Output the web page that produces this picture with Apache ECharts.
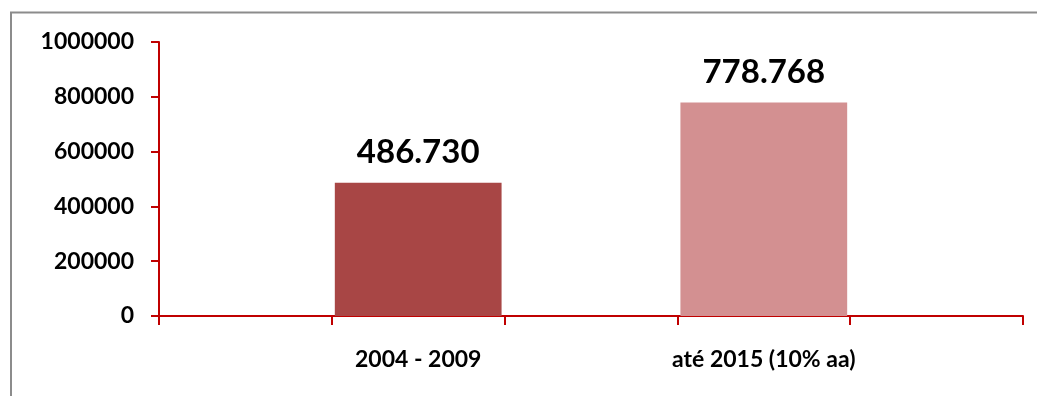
<!DOCTYPE html>
<html>
<head>
<meta charset="utf-8">
<script src="https://cdn.jsdelivr.net/npm/echarts@6/dist/echarts.min.js"></script>
<style>
html,body{margin:0;padding:0;background:#fff;}
#c{width:1037px;height:396px;}
</style>
</head>
<body>
<div id="c"></div>
<script>
const categories = ['', '2004 - 2009', '', 'até 2015 (10% aa)', ''];
const values = [null, 486730, null, 778768, null];
const barColors = [null, '#A84645', null, '#D39091', null];
const yTicks = { min: 0, max: 1000000, interval: 200000 };

const chart = echarts.init(document.getElementById('c'), null, { renderer: 'canvas' });
const fmt = v => String(v).replace(/\B(?=(\d{3})+(?!\d))/g, '.');
const axisRed = '#C00000';
chart.setOption({
  animation: false,
  backgroundColor: '#fff',
  graphic: [{
    type: 'polyline',
    shape: { points: [[11, 420], [11, 12.5], [1100, 12.5]] },
    style: { fill: null, stroke: '#8c8c8c', lineWidth: 2 },
    silent: true
  }],
  grid: { left: 159, right: 14, top: 42, bottom: 80, containLabel: false },
  xAxis: {
    type: 'category',
    data: categories,
    boundaryGap: true,
    axisLine: { lineStyle: { color: axisRed, width: 2 } },
    axisTick: { show: true, length: 9, lineStyle: { color: axisRed, width: 2 }, alignWithLabel: false },
    axisLabel: { margin: 32, color: '#000', fontFamily: 'Lato', fontWeight: 'bold', fontSize: 23, interval: 0 }
  },
  yAxis: {
    type: 'value',
    min: yTicks.min, max: yTicks.max, interval: yTicks.interval,
    axisLine: { show: true, lineStyle: { color: axisRed, width: 2 } },
    axisTick: { show: true, length: 8, lineStyle: { color: axisRed, width: 2 } },
    splitLine: { show: false },
    axisLabel: { margin: 25, color: '#000', fontFamily: 'Lato', fontWeight: 'bold', fontSize: 23, formatter: v => String(v) }
  },
  series: [{
    type: 'bar',
    barCategoryGap: '3.5%',
    data: values.map((v, i) => v == null ? null : { value: v, itemStyle: { color: barColors[i] } }),
    label: {
      show: true, position: 'top', distance: 14,
      formatter: p => fmt(p.value),
      color: '#000', fontFamily: 'Lato', fontWeight: 'bold', fontSize: 33
    }
  }]
});
</script>
</body>
</html>
